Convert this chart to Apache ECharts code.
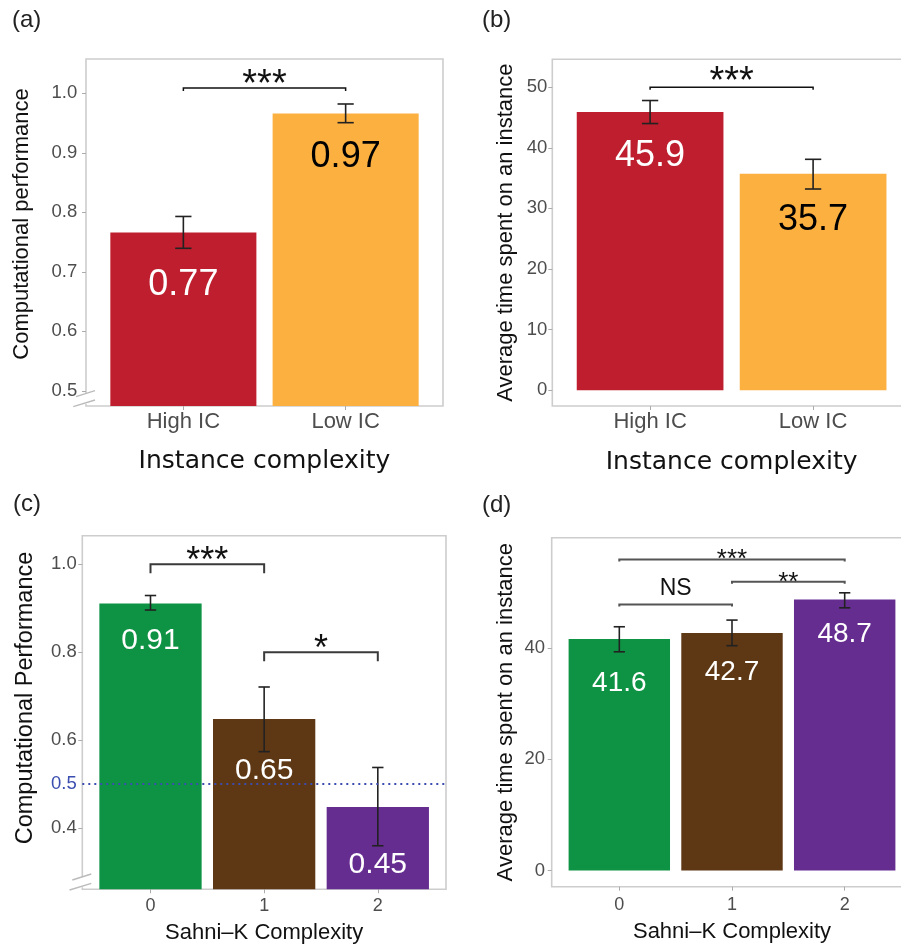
<!DOCTYPE html>
<html><head><meta charset="utf-8">
<script src="https://cdn.jsdelivr.net/npm/echarts@6/dist/echarts.min.js"></script>
<style>html,body{margin:0;padding:0;background:#fff}#c{width:901px;height:945px}</style>
</head><body><div id="c"></div>
<script>
// ---------- data ----------
// (a) computational performance by instance complexity
const catsIC = ['High IC', 'Low IC'];
const perfIC = [0.766, 0.966];
const perfICLo = [0.7395, 0.9506];
const perfICHi = [0.793, 0.982];
const perfICLabels = ['0.77', '0.97'];
const perfICTicks = [0.5, 0.6, 0.7, 0.8, 0.9, 1.0];
const perfICSig = [[0, 1, 1.009]];
const perfICSigText = ['***'];
// (b) average time by instance complexity
const timeIC = [45.9, 35.7];
const timeICLo = [44.0, 33.2];
const timeICHi = [47.8, 38.1];
const timeICLabels = ['45.9', '35.7'];
const timeICTicks = [0, 10, 20, 30, 40, 50];
const timeICSig = [[0, 1, 50.0]];
const timeICSigText = ['***'];
// (c) computational performance by Sahni-K complexity
const catsSK = ['0', '1', '2'];
const perfSK = [0.911, 0.648, 0.448];
const perfSKLo = [0.896, 0.574, 0.360];
const perfSKHi = [0.929, 0.721, 0.538];
const perfSKLabels = ['0.91', '0.65', '0.45'];
const perfSKTicks = [0.4, 0.5, 0.6, 0.8, 1.0];
const perfSKTickMarks = [0.4, 0.6, 0.8, 1.0];
const perfSKChance = 0.5;
const perfSKSig = [[0, 1, 1.0], [1, 2, 0.8]];
const perfSKSigText = ['***', '*'];
// (d) average time by Sahni-K complexity
const timeSK = [41.6, 42.7, 48.7];
const timeSKLo = [39.3, 40.4, 47.2];
const timeSKHi = [43.8, 45.0, 49.9];
const timeSKLabels = ['41.6', '42.7', '48.7'];
const timeSKTicks = [0, 20, 40];
const timeSKSig = [[0, 2, 55.9], [1, 2, 51.9], [0, 1, 47.8]];
const timeSKSigText = ['***', '**', 'NS'];

// ---------- styles ----------
const FONT = '"Liberation Sans", Arial, Helvetica, sans-serif';
const colorsIC = ['#BE1E2D', '#FBB040'];
const colorsSK = ['#0E9345', '#5E3714', '#662D91'];

const panels = [
  { grid: {left: 86, top: 59, width: 357, height: 347},
    cats: catsIC, vals: perfIC, lo: perfICLo, hi: perfICHi, labels: perfICLabels,
    colors: colorsIC, labelColors: ['#FFFFFF', '#000000'], labelDist: [34.4, 25.4], labelSize: 36,
    yMin: 0.4745, yMax: 1.0576, yTicks: perfICTicks, yTickMarks: perfICTicks, yDec: 1,
    yName: 'Computational performance', yNameSize: 22, yNameGap: 52.8, yNamePad: [0, 0, 0, 17],
    yLabelMargin: 8.7, yLabelPad: [0,0,8,0],
    xName: 'Instance complexity', xNameFont: '"DejaVu Sans", sans-serif', xNameSize: 25, xNameGap: 42.8,
    xLabelSize: 22, xLabelMargin: 5,
    sig: perfICSig, sigText: perfICSigText, sigSize: 38, sigGap: 12, sigColor: '#111', sigWidth: 1.5, tip: 3,
    letter: '(a)', letterPos: [12, 20], brk: true },
  { grid: {left: 552.3, top: 59.3, width: 358.6, height: 346.7},
    cats: catsIC, vals: timeIC, lo: timeICLo, hi: timeICHi, labels: timeICLabels,
    colors: colorsIC, labelColors: ['#FFFFFF', '#000000'], labelDist: [26.3, 28], labelSize: 36,
    yMin: -2.6, yMax: 54.6, yTicks: timeICTicks, yTickMarks: timeICTicks, yDec: 0,
    yName: 'Average time spent on an instance', yNameSize: 22, yNameGap: 35.8, yNamePad: 0,
    yLabelMargin: 5, yLabelPad: 0,
    xName: 'Instance complexity', xNameFont: '"DejaVu Sans", sans-serif', xNameSize: 25, xNameGap: 44,
    xLabelSize: 22, xLabelMargin: 5,
    sig: timeICSig, sigText: timeICSigText, sigSize: 38, sigGap: 14, sigColor: '#111', sigWidth: 1.5, tip: 2.5,
    letter: '(b)', letterPos: [482, 20], brk: false },
  { grid: {left: 82.3, top: 535.7, width: 363.7, height: 353.6},
    cats: catsSK, vals: perfSK, lo: perfSKLo, hi: perfSKHi, labels: perfSKLabels,
    colors: colorsSK, labelColors: ['#FFFFFF', '#FFFFFF', '#FFFFFF'], labelDist: [22, 36.8, 43], labelSize: 30,
    yMin: 0.261, yMax: 1.065, yTicks: perfSKTicks, yTickMarks: perfSKTickMarks, yDec: 1,
    yName: 'Computational Performance', yNameSize: 23.5, yNameGap: 45, yNamePad: [0, 0, 0, 29],
    yLabelMargin: 5.5, yLabelPad: 0,
    xName: 'Sahni\u2013K Complexity', xNameFont: FONT, xNameSize: 22, xNameGap: 33,
    xLabelSize: 18, xLabelMargin: 7.5,
    sig: perfSKSig, sigText: perfSKSigText, sigSize: 36, sigGap: 10.5, sigColor: '#3A3A3A', sigWidth: 2, tip: 9,
    letter: '(c)', letterPos: [13, 504], brk: true, chance: perfSKChance },
  { grid: {left: 551.7, top: 537.7, width: 360.6, height: 349},
    cats: catsSK, vals: timeSK, lo: timeSKLo, hi: timeSKHi, labels: timeSKLabels,
    colors: colorsSK, labelColors: ['#FFFFFF', '#FFFFFF', '#FFFFFF'], labelDist: [30.5, 25.7, 20.5], labelSize: 28,
    yMin: -2.9, yMax: 59.8, yTicks: timeSKTicks, yTickMarks: timeSKTicks, yDec: 0,
    yName: 'Average time spent on an instance', yNameSize: 22, yNameGap: 35, yNamePad: 0,
    yLabelMargin: 6.7, yLabelPad: 0,
    xName: 'Sahni\u2013K Complexity', xNameFont: FONT, xNameSize: 22, xNameGap: 34,
    xLabelSize: 18, xLabelMargin: 9,
    sig: timeSKSig, sigText: timeSKSigText, sigSize: 26, sigGap: 5.5, textGap: 16.3, textSize: 23,
    sigColor: '#555555', sigWidth: 2, tip: 2,
    letter: '(d)', letterPos: [482, 505], brk: false }
];

const grid = [], xAxis = [], yAxis = [], series = [], graphicEls = [];

panels.forEach((p, i) => {
  grid.push(Object.assign({show: true, borderColor: '#CDCDCD', borderWidth: 1.6,
    backgroundColor: 'transparent', containLabel: false, outerBoundsMode: 'none'}, p.grid));
  const xIdx = p.cats.map((c, j) => j);
  xAxis.push({
    type: 'value', gridIndex: i, min: -0.6, max: p.cats.length - 0.4, position: 'bottom',
    axisLine: {show: false, onZero: false}, splitLine: {show: false},
    axisTick: {show: true, customValues: xIdx, length: 4, lineStyle: {color: '#ABABAB', width: 1}},
    axisLabel: {customValues: xIdx, formatter: v => p.cats[Math.round(v)] || '',
      fontFamily: FONT, fontSize: p.xLabelSize, lineHeight: p.xLabelSize, color: '#4D4D4D', margin: p.xLabelMargin},
    name: p.xName, nameLocation: 'middle', nameGap: p.xNameGap,
    nameTextStyle: {fontFamily: p.xNameFont, fontSize: p.xNameSize, lineHeight: p.xNameSize, color: '#111'}
  });
  yAxis.push({
    type: 'value', gridIndex: i, min: p.yMin, max: p.yMax, position: 'left',
    axisLine: {show: false, onZero: false}, splitLine: {show: false},
    axisTick: {show: true, customValues: p.yTickMarks, length: 4, lineStyle: {color: '#ABABAB', width: 1}},
    axisLabel: {customValues: p.yTicks,
      formatter: v => Number(v).toFixed(p.yDec),
      color: v => (p.chance !== undefined && Math.abs(parseFloat(v) - p.chance) < 1e-9) ? '#3B4DB0' : '#4D4D4D',
      fontFamily: FONT, fontSize: 18.5, lineHeight: 18.5, margin: p.yLabelMargin, padding: p.yLabelPad},
    name: p.yName, nameLocation: 'middle', nameRotate: 90, nameGap: p.yNameGap,
    nameTextStyle: {fontFamily: FONT, fontSize: p.yNameSize, lineHeight: p.yNameSize, color: '#111', padding: p.yNamePad}
  });

  const bar = {
    type: 'bar', xAxisIndex: i, yAxisIndex: i, barWidth: '90%', clip: true, z: 2,
    data: p.vals.map((v, j) => ({value: [j, v], itemStyle: {color: p.colors[j]},
      label: {color: p.labelColors[j], distance: p.labelDist[j]}})),
    label: {show: true, position: 'insideTop', formatter: q => p.labels[q.dataIndex],
      fontFamily: FONT, fontSize: p.labelSize, lineHeight: p.labelSize},
    silent: true
  };
  if (p.chance !== undefined) {
    bar.markLine = {silent: true, symbol: ['none', 'none'], label: {show: false},
      lineStyle: {type: [2, 4], color: '#3B4DB0', width: 2}, data: [{yAxis: p.chance}], animation: false};
  }
  series.push(bar);

  // error bars
  series.push({
    type: 'custom', xAxisIndex: i, yAxisIndex: i, z: 3, silent: true,
    data: p.vals.map((v, j) => [j, p.lo[j], p.hi[j]]),
    encode: {x: 0, y: [1, 2]},
    renderItem: (params, api) => {
      const x = api.value(0);
      const top = api.coord([x, api.value(2)]);
      const bot = api.coord([x, api.value(1)]);
      const half = api.size([0.1, 0])[0] / 2;
      const st = {stroke: '#222222', lineWidth: 1.6};
      return {type: 'group', children: [
        {type: 'line', shape: {x1: top[0], y1: top[1], x2: bot[0], y2: bot[1]}, style: st},
        {type: 'line', shape: {x1: top[0] - half, y1: top[1], x2: top[0] + half, y2: top[1]}, style: st},
        {type: 'line', shape: {x1: bot[0] - half, y1: bot[1], x2: bot[0] + half, y2: bot[1]}, style: st}
      ]};
    }
  });

  // significance brackets
  series.push({
    type: 'custom', xAxisIndex: i, yAxisIndex: i, z: 4, silent: true,
    data: p.sig.map(s => [s[0], s[1], s[2]]),
    encode: {x: [0, 1], y: 2},
    renderItem: (params, api) => {
      const a = api.coord([api.value(0), api.value(2)]);
      const b = api.coord([api.value(1), api.value(2)]);
      const txt = p.sigText[params.dataIndex];
      const isStar = /^\*+$/.test(txt);
      const fs = isStar ? p.sigSize : (p.textSize || p.sigSize);
      const ty = isStar ? a[1] - p.sigGap + 0.24 * fs : a[1] - (p.textGap || p.sigGap);
      return {type: 'group', children: [
        {type: 'polyline', shape: {points: [[a[0], a[1] + p.tip], [a[0], a[1]], [b[0], b[1]], [b[0], b[1] + p.tip]]},
          style: {stroke: p.sigColor, lineWidth: p.sigWidth, fill: null}},
        {type: 'text', style: {text: txt, x: (a[0] + b[0]) / 2, y: ty, align: 'center', verticalAlign: 'middle',
          fontFamily: FONT, fontSize: fs, fill: '#111'}}
      ]};
    }
  });

  graphicEls.push({type: 'text', x: p.letterPos[0], y: p.letterPos[1], z: 100,
    style: {text: p.letter, fontFamily: FONT, fontSize: 24, fill: '#222', verticalAlign: 'middle'}});

  if (p.brk) {
    const gx = p.grid.left, gy = p.grid.top + p.grid.height;
    graphicEls.push({type: 'rect', z: 100, shape: {x: gx - 2, y: gy - 12, width: 4, height: 10}, style: {fill: '#FFFFFF'}});
    graphicEls.push({type: 'line', z: 101, shape: {x1: gx - 12.7, y1: gy + 0.7, x2: gx + 9, y2: gy - 6},
      style: {stroke: '#BBBBBB', lineWidth: 1.4}});
    graphicEls.push({type: 'line', z: 101, shape: {x1: gx - 10, y1: gy - 9.3, x2: gx + 9, y2: gy - 15.3},
      style: {stroke: '#BBBBBB', lineWidth: 1.4}});
  }
});

const chart = echarts.init(document.getElementById('c'), null, {renderer: 'canvas'});
chart.setOption({
  animation: false,
  backgroundColor: '#FFFFFF',
  grid, xAxis, yAxis, series,
  graphic: {elements: graphicEls}
});
</script>
</body></html>
